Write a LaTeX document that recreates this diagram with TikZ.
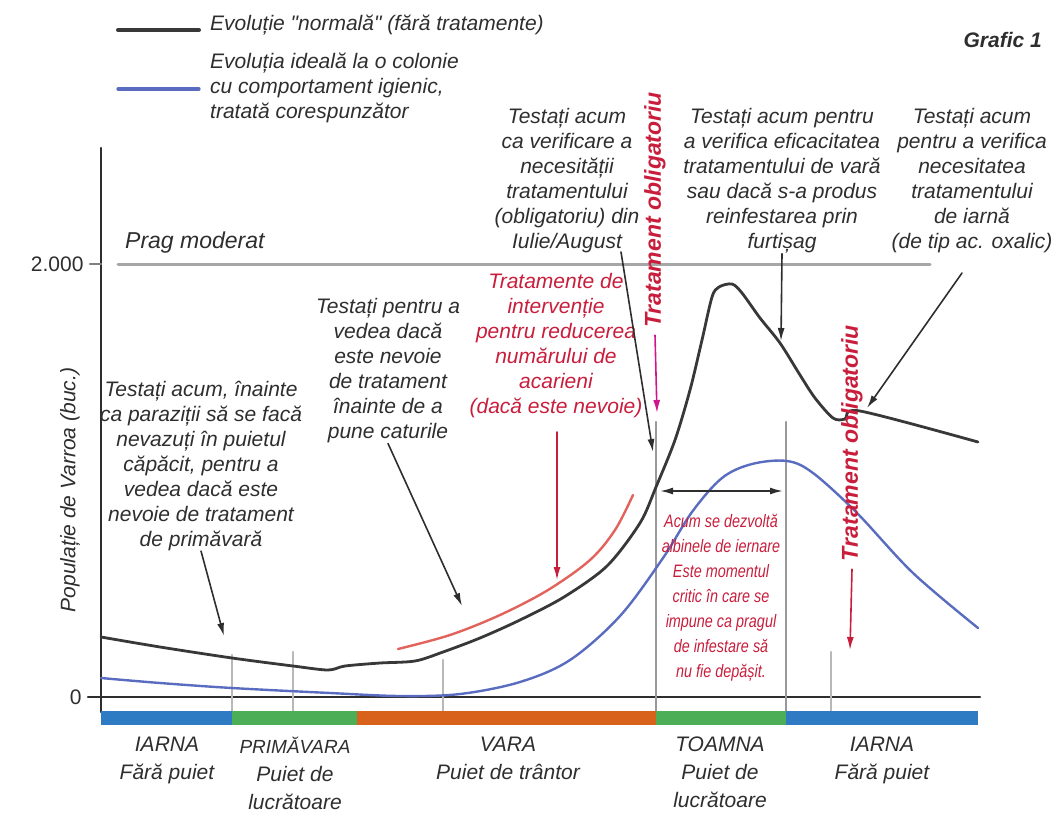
\documentclass[tikz,border=0pt]{standalone}
\usepackage{fontspec}
\setmainfont{Liberation Sans}
\newfontfamily\narrowfont{Liberation Sans}[FakeStretch=0.8]
\newfontfamily\quotefont{Liberation Sans}[Ligatures=TeXOff]
\usetikzlibrary{arrows.meta}

\definecolor{curvegray}{HTML}{383838}
\definecolor{idealblue}{HTML}{5A6CC0}
\definecolor{treatred}{HTML}{E2625C}
\definecolor{notered}{HTML}{C81E3C}
\definecolor{magarrow}{HTML}{D0168C}
\definecolor{winterblue}{HTML}{2F7BC3}
\definecolor{springgreen}{HTML}{4DAE58}
\definecolor{summerorange}{HTML}{D8611C}
\definecolor{textgray}{HTML}{2E2E2E}
\definecolor{gridgray}{HTML}{B8B8B8}

\begin{document}
\begin{tikzpicture}[x=1pt,y=-1pt,>={Latex[length=13pt,width=7pt]},line cap=round,
  note/.style={align=center,text=textgray,inner sep=0pt,font=\itshape\fontsize{21}{25}\selectfont},
  rednote/.style={note,text=notered},
  seasonlabel/.style={note,anchor=north,font=\itshape\fontsize{21}{28}\selectfont},
  vertnote/.style={rotate=90,text=notered,inner sep=0pt,font=\bfseries\itshape\fontsize{23}{25}\selectfont},
  normal/.style={curvegray,line width=2.8pt},
  ideal/.style={idealblue,line width=2.4pt},
  pointer/.style={->,textgray,line width=1.6pt},
  gridline/.style={gridgray,line width=2.4pt}]
  \useasboundingbox (0,0) rectangle (1060,825);

  % Legend
  \coordinate (lgA1) at (118,30);
  \coordinate (lgA2) at (199,30);
  \coordinate (lgB1) at (118,89);
  \coordinate (lgB2) at (199,89);
  \draw[normal,line width=4pt] (lgA1) -- (lgA2);
  \draw[ideal,line width=3.2pt] (lgB1) -- (lgB2);
  \node[note,anchor=west] (lgAtext) at (210,25) {Evoluție {\quotefont\itshape "}normală{\quotefont\itshape "} (fără tratamente)};
  \node[note,anchor=west,align=left] (lgBtext) at (210,88)
    {Evoluția ideală la o colonie\\cu comportament igienic,\\tratată corespunzător};
  \node[note,anchor=east,font=\bfseries\itshape\fontsize{21}{25}\selectfont] (title) at (1042,40) {Grafic 1};

  % Axes
  \coordinate (yTop) at (101,148);
  \coordinate (yBot) at (101,712);
  \coordinate (xLeft) at (88,697);
  \coordinate (xRight) at (980,697);
  \coordinate (t2000) at (90,264);
  \coordinate (t2000b) at (101,264);
  \draw[textgray,line width=2.6pt] (yTop) -- (yBot);
  \draw[textgray,line width=2.4pt] (xLeft) -- (xRight);
  \draw[gray,line width=2.6pt] (t2000) -- (t2000b);
  \node[anchor=east,text=textgray,font=\fontsize{21}{25}\selectfont] (lab2000) at (87,264) {2.000};
  \node[anchor=east,text=textgray,font=\fontsize{21}{25}\selectfont] (lab0) at (85,697) {0};
  \node[note,rotate=90] (ylabel) at (70,490) {Populație de Varroa (buc.)};

  % Threshold
  \coordinate (prag1) at (118,264);
  \coordinate (prag2) at (930,264);
  \draw[gray!70,line width=3pt] (prag1) -- (prag2);
  \node[note,anchor=west,font=\itshape\fontsize{23}{25}\selectfont] (prag) at (125,243) {Prag moderat};

  % Grid lines
  \foreach \gx/\gtop in {232/655,293/652,443/660,831/652}
    \draw[gridline] (\gx,\gtop) -- (\gx,711);
  \draw[gridline,gray!80] (656,422) -- (656,711);
  \draw[gridline,gray!80] (786,422) -- (786,711);

  % Seasons
  \foreach \sa/\sb/\sc in {101/232/winterblue,232/357/springgreen,357/656/summerorange,656/786/springgreen,786/978/winterblue}
    \fill[\sc] (\sa,711) rectangle (\sb,725);
  \node[seasonlabel] (s1) at (167,737) {IARNA\\Fără puiet};
  \node[seasonlabel] (s2) at (295,737) {{\fontsize{19}{28}\selectfont PRIMĂVARA}\\Puiet de\\lucrătoare};
  \node[seasonlabel] (s3) at (508,737) {VARA\\Puiet de trântor};
  \node[seasonlabel] (s4) at (720,737) {TOAMNA\\Puiet de\\lucrătoare};
  \node[seasonlabel] (s5) at (882,737) {IARNA\\Fără puiet};

  % Curves
  \draw[ideal] plot[smooth,tension=0.55] coordinates {(101,678) (160,683) (232,688) (330,693) (400,696)
    (460,694) (520,682) (570,660) (620,616) (663,558) (692,512) (722,478) (752,464) (787,461)
    (813,473) (857,513) (913,573) (978,628)};
  \draw[treatred,line width=2.4pt] plot[smooth,tension=0.55] coordinates {(398,649) (450,635) (500,615)
    (548,590) (590,560) (615,530) (633,495)};
  \draw[normal] plot[smooth,tension=0.5] coordinates {(101,637) (160,647) (232,658) (293,666) (328,670)
    (345,666) (380,663) (415,661) (443,652) (480,638) (520,620) (564,597) (607,566) (640,523)
    (656,487) (675,440) (690,390) (702,340) (712,297) (719,287) (732,284) (742,293) (760,318)
    (780,343) (800,375) (815,398) (833,418) (845,419) (860,411) (978,442)};

  % Notes
  \node[note] (tA) at (201,466) {Testați acum, înainte\\ca paraziții să se facă\\nevazuți în puietul\\căpăcit, pentru a\\vedea dacă este\\nevoie de tratament\\de primăvară};
  \node[note] (tB) at (388,371) {Testați pentru a\\vedea dacă\\este nevoie\\de tratament\\înainte de a\\pune caturile};
  \node[rednote] (tC) at (556,346) {Tratamente de\\intervenție\\pentru reducerea\\numărului de\\acarieni\\(dacă este nevoie)};
  \node[note] (tD) at (567,181) {Testați acum\\ca verificare a\\necesității\\tratamentului\\(obligatoriu) din\\Iulie/August};
  \node[note] (tE) at (782,181) {Testați acum pentru\\a verifica eficacitatea\\tratamentului de vară\\sau dacă s-a produs\\reinfestarea prin\\furtișag};
  \node[note] (tF) at (972,181) {Testați acum\\pentru a verifica\\necesitatea\\tratamentului\\de iarnă\\(de tip ac. oxalic)};
  \node[rednote,font=\narrowfont\itshape\fontsize{18}{25}\selectfont] (tG) at (721,598)
    {Acum se dezvoltă\\albinele de iernare\\Este momentul\\critic în care se\\impune ca pragul\\de infestare să\\nu fie depășit.};
  \node[vertnote] (tvL) at (655,210) {Tratament obligatoriu};
  \node[vertnote] (tvR) at (852,443) {Tratament obligatoriu};

  % Pointers
  \coordinate (tipA) at (224,636);
  \coordinate (tipB) at (462,606);
  \coordinate (startD) at (621,252);
  \coordinate (tipD) at (653,452);
  \coordinate (tipE) at (781,341);
  \coordinate (startF) at (962,273);
  \coordinate (tipF) at (867,408);
  \coordinate (startC) at (557,432);
  \coordinate (tipC) at (557,580);
  \coordinate (tipL) at (657,413);
  \coordinate (tipR) at (850,650);
  \coordinate (spanL) at (660,491);
  \coordinate (spanR) at (783,491);
  \draw[pointer] (tA.south) -- (tipA);
  \draw[pointer] (tB.south) -- (tipB);
  \draw[pointer] (startD) -- (tipD);
  \draw[pointer] (tE.south) -- (tipE);
  \draw[pointer] (startF) -- (tipF);
  \draw[->,notered,line width=1.6pt] (startC) -- (tipC);
  \draw[->,magarrow,line width=1.6pt] ([yshift=-7pt]tvL.west) -- (tipL);
  \draw[->,notered,line width=1.6pt] ([yshift=-8pt]tvR.west) -- (tipR);
  \draw[<->,textgray,line width=1.8pt] (spanL) -- (spanR);
\end{tikzpicture}
\end{document}
